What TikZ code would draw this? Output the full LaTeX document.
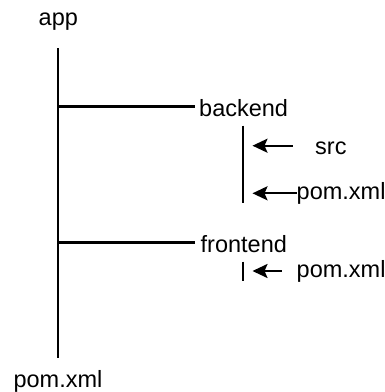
\documentclass[tikz,border=0pt]{standalone}
\usepackage{fontspec}
\setmainfont{Liberation Sans}
\usetikzlibrary{arrows.meta}
\tikzset{
  lbl/.style={inner sep=0pt, font=\fontsize{23.5}{27}\selectfont},
  tree/.style={line width=2.2pt, black},
  ptr/.style={line width=2.2pt, black, -{Stealth[length=15pt,width=14pt,inset=3pt]}}
}
\begin{document}
\begin{tikzpicture}[x=1pt,y=-1pt]
\useasboundingbox (0,0) rectangle (385,392);

% labels
\node[lbl, anchor=base] (app) at (58.3,25) {app};
\node[lbl, anchor=base west] (backend) at (199,116) {backend};
\node[lbl, anchor=base west] (src) at (315,154) {src};
\node[lbl, anchor=base west] (bpom) at (296.5,199.5) {pom.xml};
\node[lbl, anchor=base west] (frontend) at (200.5,252.3) {frontend};
\node[lbl, anchor=base west] (fpom) at (296.5,277.5) {pom.xml};
\node[lbl, anchor=base] (rootpom) at (58,387) {pom.xml};

% main trunk
\coordinate (trunktop) at (58.3,48.3);
\coordinate (trunkbot) at (58.3,358.3);
\coordinate (jb) at (58.3,106.5);
\coordinate (jf) at (58.3,242.5);
\draw[tree] (trunktop) -- (trunkbot);
\draw[tree] (jb) -- (194.5,106.5) coordinate (be);
\draw[tree] (jf) -- (194.5,242.5) coordinate (fe);

% backend children
\coordinate (btop) at (242.7,125.5);
\coordinate (bbot) at (242.7,203);
\draw[tree] (btop) -- (bbot);
\coordinate (srcfrom) at (292.5,145.7);
\coordinate (srcto) at (252.5,145.7);
\draw[ptr] (srcfrom) -- (srcto);
\coordinate (bpomfrom) at (bpom.west |- 0,193.3);
\coordinate (bpomto) at (252.5,193.3);
\draw[ptr] (bpomfrom) -- (bpomto);

% frontend children
\coordinate (ftop) at (242.7,261.7);
\coordinate (fbot) at (242.7,281);
\draw[tree] (ftop) -- (fbot);
\coordinate (fpomfrom) at (281.7,271);
\coordinate (fpomto) at (252.5,271);
\draw[ptr] (fpomfrom) -- (fpomto);
\end{tikzpicture}
\end{document}
